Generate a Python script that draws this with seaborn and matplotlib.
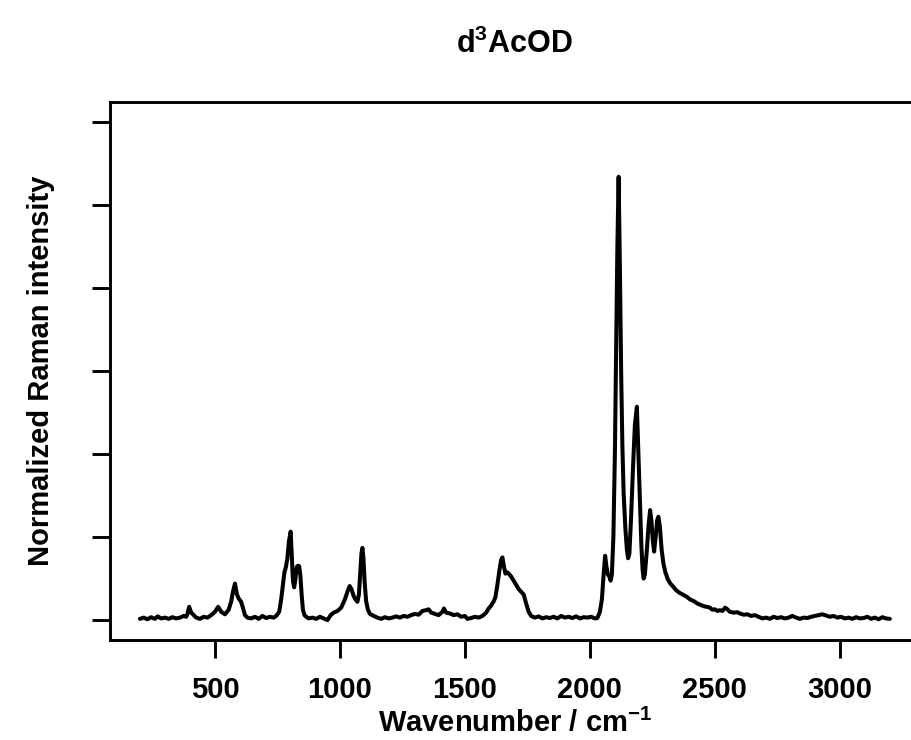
import matplotlib
matplotlib.use("Agg")
import matplotlib.pyplot as plt
import seaborn as sns
import pandas as pd

# spectrum (wavenumber / cm^-1, normalized intensity)
wavenumber = [
    200, 215, 230, 245, 260, 271, 285, 300, 315, 330, 345, 360, 375, 385, 390, 397, 405, 415, 425, 440,
    455, 470, 485, 500, 513, 525, 540, 555, 565, 572, 580, 588, 595, 604, 612, 620, 630, 645, 660, 675,
    690, 705, 720, 735, 745, 757, 765, 772, 778, 784, 790, 796, 803, 808, 812, 817, 822, 827, 832, 837,
    842, 847, 852, 858, 865, 875, 890, 905, 920, 935, 950, 963, 975, 990, 1005, 1020, 1032, 1039, 1046, 1055,
    1062, 1070, 1076, 1082, 1086, 1090, 1094, 1099, 1105, 1112, 1120, 1135, 1150, 1165, 1180, 1195, 1210, 1225, 1240, 1255,
    1270, 1285, 1300, 1315, 1330, 1345, 1355, 1365, 1380, 1395, 1410, 1416, 1425, 1440, 1455, 1470, 1485, 1500, 1510, 1525,
    1540, 1555, 1570, 1585, 1595, 1605, 1615, 1622, 1630, 1638, 1645, 1650, 1656, 1662, 1670, 1678, 1685, 1695, 1705, 1715,
    1725, 1735, 1745, 1755, 1765, 1780, 1795, 1810, 1825, 1840, 1855, 1870, 1885, 1900, 1915, 1930, 1945, 1960, 1975, 1990,
    2005, 2020, 2030, 2040, 2048, 2055, 2061, 2066, 2072, 2078, 2083, 2088, 2094, 2100, 2105, 2110, 2115, 2120, 2125, 2130,
    2135, 2142, 2148, 2153, 2158, 2165, 2172, 2180, 2188, 2194, 2200, 2206, 2211, 2215, 2220, 2228, 2235, 2241, 2246, 2252,
    2257, 2263, 2269, 2274, 2280, 2287, 2294, 2302, 2312, 2322, 2334, 2345, 2358, 2370, 2388, 2400, 2415, 2430, 2445, 2458,
    2468, 2480, 2490, 2500, 2510, 2520, 2530, 2541, 2550, 2560, 2575, 2590, 2600, 2615, 2630, 2645, 2660, 2675, 2690, 2705,
    2720, 2735, 2750, 2765, 2780, 2795, 2810, 2825, 2840, 2855, 2870, 2885, 2900, 2915, 2930, 2945, 2960, 2975, 2990, 3005,
    3020, 3035, 3050, 3065, 3080, 3095, 3110, 3125, 3140, 3155, 3170, 3185, 3200,
]
intensity = [
    0.003, 0.006, 0.002, 0.007, 0.003, 0.009, 0.004, 0.006, 0.003, 0.007, 0.004, 0.006, 0.010, 0.008, 0.015, 0.032, 0.018, 0.012, 0.006, 0.003,
    0.008, 0.006, 0.012, 0.020, 0.032, 0.020, 0.014, 0.025, 0.045, 0.068, 0.088, 0.062, 0.052, 0.045, 0.030, 0.012, 0.006, 0.004, 0.008, 0.003,
    0.010, 0.005, 0.008, 0.006, 0.010, 0.020, 0.050, 0.085, 0.115, 0.128, 0.150, 0.190, 0.213, 0.150, 0.095, 0.079, 0.100, 0.128, 0.131, 0.130,
    0.105, 0.060, 0.025, 0.012, 0.008, 0.004, 0.006, 0.003, 0.008, 0.004, 0.000, 0.012, 0.018, 0.022, 0.030, 0.050, 0.072, 0.082, 0.075, 0.058,
    0.050, 0.044, 0.062, 0.120, 0.160, 0.174, 0.150, 0.090, 0.045, 0.025, 0.015, 0.010, 0.006, 0.003, 0.007, 0.004, 0.006, 0.009, 0.006, 0.010,
    0.008, 0.012, 0.015, 0.013, 0.022, 0.024, 0.026, 0.018, 0.015, 0.012, 0.020, 0.028, 0.018, 0.016, 0.012, 0.014, 0.008, 0.010, 0.003, 0.005,
    0.008, 0.006, 0.010, 0.018, 0.028, 0.035, 0.045, 0.055, 0.085, 0.120, 0.145, 0.151, 0.130, 0.112, 0.115, 0.110, 0.105, 0.095, 0.085, 0.075,
    0.068, 0.062, 0.040, 0.020, 0.010, 0.006, 0.009, 0.004, 0.007, 0.005, 0.008, 0.004, 0.010, 0.006, 0.008, 0.005, 0.009, 0.004, 0.007, 0.006,
    0.008, 0.004, 0.005, 0.020, 0.050, 0.110, 0.155, 0.130, 0.110, 0.105, 0.095, 0.110, 0.200, 0.400, 0.650, 0.900, 1.068, 0.850, 0.600, 0.420,
    0.306, 0.220, 0.170, 0.149, 0.160, 0.250, 0.360, 0.470, 0.514, 0.400, 0.280, 0.180, 0.120, 0.100, 0.110, 0.170, 0.230, 0.265, 0.240, 0.190,
    0.165, 0.200, 0.240, 0.249, 0.225, 0.170, 0.137, 0.115, 0.098, 0.088, 0.080, 0.072, 0.066, 0.062, 0.056, 0.050, 0.046, 0.040, 0.036, 0.033,
    0.032, 0.030, 0.025, 0.026, 0.022, 0.024, 0.022, 0.030, 0.026, 0.020, 0.018, 0.019, 0.016, 0.013, 0.014, 0.010, 0.012, 0.008, 0.004, 0.006,
    0.003, 0.008, 0.005, 0.007, 0.004, 0.006, 0.010, 0.006, 0.003, 0.006, 0.005, 0.008, 0.010, 0.012, 0.014, 0.011, 0.008, 0.010, 0.006, 0.008,
    0.004, 0.006, 0.003, 0.007, 0.004, 0.005, 0.008, 0.003, 0.006, 0.002, 0.007, 0.004, 0.003,
]

x_ticks = [500, 1000, 1500, 2000, 2500, 3000]
y_ticks = [0.0, 0.2, 0.4, 0.6, 0.8, 1.0, 1.2]

sns.set_style("ticks")

plt.rcParams["font.family"] = ["Liberation Sans", "DejaVu Sans"]
plt.rcParams["font.weight"] = "bold"
plt.rcParams["text.color"] = "black"
plt.rcParams["axes.labelcolor"] = "black"
plt.rcParams["xtick.color"] = "black"
plt.rcParams["ytick.color"] = "black"
plt.rcParams["mathtext.fontset"] = "custom"
plt.rcParams["mathtext.rm"] = "Liberation Sans:bold"
plt.rcParams["mathtext.it"] = "Liberation Sans:bold"
plt.rcParams["mathtext.bf"] = "Liberation Sans:bold"

df = pd.DataFrame({"wn": wavenumber, "I": intensity})

fig = plt.figure(figsize=(9.11, 7.4), dpi=100)
ax = fig.add_axes([0.1207, 0.1351, 0.889, 0.727])

sns.lineplot(data=df, x="wn", y="I", color="black", linewidth=2.9, ax=ax)

# R style 4% padding
span = max(wavenumber) - min(wavenumber)
ax.set_xlim(min(wavenumber) - 0.04 * span, max(wavenumber) + 0.04 * span)
ax.set_ylim(y_ticks[0] - 0.04 * (y_ticks[-1] - y_ticks[0]), y_ticks[-1] + 0.04 * (y_ticks[-1] - y_ticks[0]))

ax.set_xticks(x_ticks)
ax.set_xticklabels([str(t) for t in x_ticks], fontsize=21, fontweight="bold")
ax.set_yticks(y_ticks)
ax.set_yticklabels([])
ax.tick_params(axis="both", direction="out", length=13, width=2.1, pad=13)

for s in ax.spines.values():
    s.set_visible(True)
    s.set_linewidth(2.1)
    s.set_color("black")

ax.set_xlabel(r"Wavenumber / cm$^{-1}$", fontsize=21, fontweight="bold")
ax.xaxis.set_label_coords(0.5, -0.128)
ax.set_ylabel("Normalized Raman intensity", fontsize=21, fontweight="bold")
ax.yaxis.set_label_coords(-0.068, 0.5)

ax.text(0.5, 1.092, r"d$^3$AcOD", transform=ax.transAxes, ha="center", va="baseline",
        fontsize=22, fontweight="bold")

fig.savefig("out.png", dpi=100)
